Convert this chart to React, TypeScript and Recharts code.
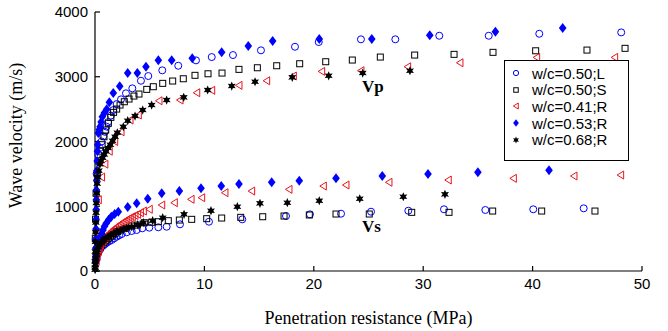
import React from 'react';
import { ScatterChart, Scatter, XAxis, YAxis } from 'recharts';

const xTicks = [0, 10, 20, 30, 40, 50];
const yTicks = [0, 1000, 2000, 3000, 4000];

// w/c=0.50;L
const vpL50 = [[0.15, 1500], [0.3, 1800], [0.45, 1900], [0.6, 2000], [0.75, 2080], [0.9, 2150], [1.05, 2230], [1.2, 2300], [1.45, 2400], [1.67, 2486], [1.98, 2578], [2.38, 2651], [2.83, 2744], [3.41, 2821], [4.2, 2938], [4.87, 3011], [6.15, 3099], [7.61, 3170], [9.23, 3253], [10.67, 3304], [12.61, 3335], [15.17, 3408], [18.28, 3463], [20.45, 3536], [24.31, 3578], [27.45, 3578], [31.47, 3633], [35.99, 3633], [40.61, 3664], [48.1, 3685]];
const vsL50 = [[0.2, 250], [0.35, 300], [0.5, 350], [0.65, 380], [0.8, 400], [0.95, 420], [1.1, 440], [1.3, 460], [1.53, 479], [1.75, 505], [1.98, 530], [2.2, 550], [2.44, 571], [2.9, 598], [3.35, 618], [3.81, 633], [4.32, 659], [4.96, 669], [5.79, 675], [6.55, 684], [7.77, 721], [10.42, 761], [13.46, 798], [17.46, 849], [19.65, 875], [22.49, 885], [25.23, 916], [28.64, 931], [31.9, 953], [35.68, 942], [40.06, 953], [44.67, 968]];

// w/c=0.50;S
const vpS50 = [[0.03, 500], [0.05, 800], [0.1, 1200], [0.2, 1500], [0.35, 1700], [0.5, 1850], [0.65, 1950], [0.82, 2074], [0.98, 2177], [1.22, 2281], [1.45, 2373], [1.7, 2450], [1.98, 2501], [2.29, 2563], [2.68, 2614], [3.11, 2656], [3.56, 2702], [4.02, 2733], [4.73, 2805], [5.33, 2846], [6.19, 2898], [7.1, 2934], [8.07, 2969], [9.14, 3022], [10.33, 3046], [11.61, 3057], [13.16, 3114], [14.84, 3139], [16.61, 3170], [18.71, 3201], [21.09, 3232], [23.52, 3258], [26.08, 3304], [29.22, 3335], [32.82, 3346], [36.38, 3377], [40.28, 3401], [44.97, 3412], [48.45, 3439]];
const vsS50 = [[0.15, 200], [0.3, 300], [0.45, 350], [0.6, 400], [0.8, 440], [1.0, 470], [1.2, 500], [1.4, 530], [1.6, 555], [1.83, 582], [2.05, 610], [2.29, 633], [2.74, 659], [3.35, 695], [3.87, 710], [4.51, 746], [5.18, 752], [5.79, 761], [6.7, 777], [7.71, 787], [8.84, 798], [10.21, 808], [11.58, 818], [13.32, 829], [15.33, 838], [17.28, 849], [19.59, 865], [22.03, 880], [25.07, 880], [28.95, 906], [32.36, 906], [36.35, 926], [40.83, 926], [45.7, 926]];

// w/c=0.41;R
const vpR41 = [[0.1, 600], [0.3, 1100], [0.6, 1450], [0.9, 1650], [1.3, 1850], [1.8, 2000], [2.38, 2151], [3.2, 2331], [3.96, 2409], [5.85, 2629], [7.77, 2640], [9.3, 2753], [10.67, 2790], [13.16, 2867], [15.69, 2938], [18.13, 3011], [20.72, 3083], [24.31, 3093], [28.58, 3154], [33.36, 3216], [40.37, 3299], [47.5, 3299]];
const vsR41 = [[0.1, 150], [0.2, 230], [0.3, 300], [0.4, 350], [0.5, 400], [0.65, 440], [0.8, 480], [0.95, 520], [1.16, 556], [1.35, 590], [1.53, 618], [1.7, 645], [1.89, 669], [2.1, 695], [2.29, 721], [2.47, 740], [2.65, 761], [2.85, 785], [3.04, 803], [3.22, 820], [3.41, 838], [3.65, 858], [3.9, 875], [4.15, 900], [4.42, 926], [4.96, 953], [6.1, 1019], [7.25, 1055], [8.78, 1107], [9.75, 1132], [11.88, 1209], [14.32, 1235], [17.73, 1261], [20.87, 1312], [22.94, 1328], [26.87, 1370], [32.29, 1405], [38.24, 1431], [43.78, 1467], [48.05, 1482]];

// w/c=0.53;R
const vpR53 = [[0.05, 200], [0.06, 350], [0.08, 500], [0.09, 650], [0.1, 800], [0.11, 950], [0.12, 1100], [0.13, 1250], [0.15, 1400], [0.17, 1550], [0.2, 1700], [0.22, 1850], [0.25, 1950], [0.3, 2131], [0.38, 2180], [0.46, 2228], [0.56, 2300], [0.67, 2382], [0.85, 2440], [1.07, 2497], [1.31, 2605], [1.67, 2748], [2.26, 2852], [2.99, 3057], [3.87, 3057], [4.66, 3154], [5.79, 3253], [7.01, 3253], [8.89, 3284], [11.58, 3377], [14.01, 3474], [16.24, 3551], [20.5, 3582], [25.3, 3582], [30.6, 3639], [36.6, 3695], [42.75, 3752]];
const vsR53 = [[0.05, 150], [0.08, 250], [0.12, 324], [0.18, 380], [0.27, 428], [0.4, 480], [0.52, 530], [0.62, 580], [0.73, 633], [0.87, 690], [1.03, 736], [1.25, 790], [1.49, 838], [1.8, 880], [2.13, 916], [2.99, 988], [3.81, 1045], [4.82, 1116], [6.1, 1200], [7.71, 1235], [9.69, 1277], [11.54, 1312], [13.16, 1343], [16.15, 1370], [18.67, 1394], [22.03, 1431], [26.26, 1467], [30.44, 1498], [35.0, 1524], [41.5, 1555]];

// w/c=0.68;R
const vpR68 = [[0.02, 150], [0.03, 300], [0.04, 450], [0.06, 600], [0.08, 750], [0.1, 900], [0.12, 1050], [0.15, 1200], [0.2, 1350], [0.25, 1450], [0.35, 1550], [0.45, 1650], [0.55, 1700], [0.7, 1750], [0.85, 1800], [1.0, 1850], [1.2, 1900], [1.4, 1950], [1.6, 2010], [1.83, 2074], [2.04, 2135], [2.59, 2228], [2.99, 2321], [3.66, 2393], [4.36, 2486], [5.18, 2563], [6.55, 2640], [8.11, 2682], [10.3, 2795], [12.5, 2856], [14.63, 2923], [18.03, 2991], [21.36, 3015], [24.47, 3057], [28.79, 3093]];
const vsR68 = [[0.01, 20], [0.02, 50], [0.03, 100], [0.05, 150], [0.07, 200], [0.1, 250], [0.15, 290], [0.2, 330], [0.3, 370], [0.4, 400], [0.55, 430], [0.7, 460], [0.85, 485], [1.0, 510], [1.2, 530], [1.46, 556], [1.7, 580], [1.98, 607], [2.3, 625], [2.59, 648], [2.9, 665], [3.35, 684], [3.9, 715], [4.42, 746], [5.27, 777], [6.19, 823], [8.14, 875], [10.6, 931], [13.01, 993], [15.08, 1045], [17.58, 1055], [20.5, 1085], [24.2, 1116], [28.18, 1147], [31.99, 1184]];

const BLUE = '#0000ff';
const RED = '#e8141e';
const BLACK = '#000';

const toPts = (a: number[][], b: number[][]) => [...a, ...b].map(([x, y]) => ({ x, y }));

const OpenCircle = ({ cx, cy, s = 1 }: any) => (
  <circle cx={cx} cy={cy} r={3.5 * s} fill="none" stroke={BLUE} strokeWidth={1} />
);
const OpenSquare = ({ cx, cy, s = 1 }: any) => (
  <rect x={cx - 3 * s} y={cy - 3 * s} width={6 * s} height={6 * s} fill="none" stroke={BLACK} strokeWidth={1} />
);
const LeftTri = ({ cx, cy, s = 1 }: any) => (
  <polygon
    points={`${cx - 3.5 * s},${cy} ${cx + 3 * s},${cy - 4 * s} ${cx + 3 * s},${cy + 4 * s}`}
    fill="none"
    stroke={RED}
    strokeWidth={1}
  />
);
const Diamond = ({ cx, cy, s = 1 }: any) => (
  <polygon
    points={`${cx},${cy - 5 * s} ${cx + 3.8 * s},${cy} ${cx},${cy + 5 * s} ${cx - 3.8 * s},${cy}`}
    fill={BLUE}
  />
);
const Star = ({ cx, cy, s = 1 }: any) => {
  const pts: string[] = [];
  for (let i = 0; i < 12; i++) {
    const r = (i % 2 === 0 ? 4.6 : 2.3) * s;
    const a = (Math.PI / 6) * i - Math.PI / 2;
    pts.push(`${cx + r * Math.cos(a)},${cy + r * Math.sin(a)}`);
  }
  return <polygon points={pts.join(' ')} fill={BLACK} />;
};

const series = [
  { name: 'w/c=0.50;L', data: toPts(vpL50, vsL50), Shape: OpenCircle },
  { name: 'w/c=0.50;S', data: toPts(vpS50, vsS50), Shape: OpenSquare },
  { name: 'w/c=0.41;R', data: toPts(vpR41, vsR41), Shape: LeftTri },
  { name: 'w/c=0.53;R', data: toPts(vpR53, vsR53), Shape: Diamond },
  { name: 'w/c=0.68;R', data: toPts(vpR68, vsR68), Shape: Star },
];

const tickStyle = { fontSize: 15, fill: '#000', fontFamily: 'Liberation Sans, Arial, sans-serif' };
const titleFont = 'Liberation Serif, Times New Roman, serif';

export default function App() {
  return (
    <div style={{ position: 'absolute', left: 0, top: 0, width: 668, height: 331, background: '#fff' }}>
      <ScatterChart width={668} height={331} margin={{ top: 12, right: 26, bottom: 0, left: 0 }}>
        <XAxis
          xAxisId="b"
          type="number"
          dataKey="x"
          domain={[0, 50]}
          ticks={xTicks}
          height={60}
          tickSize={-5}
          tickMargin={12}
          tick={tickStyle}
          stroke="#000"
          strokeWidth={1.2}
          label={{ value: 'Penetration resistance (MPa)', position: 'insideBottom', offset: 7, style: { fontFamily: titleFont, fontSize: 18, fill: '#000' } }}
        />
        <XAxis
          xAxisId="t"
          orientation="top"
          type="number"
          dataKey="x"
          domain={[0, 50]}
          ticks={xTicks}
          height={0}
          tickSize={-5}
          tickFormatter={() => ''}
          stroke="#000"
          strokeWidth={1.2}
        />
        <YAxis
          yAxisId="l"
          type="number"
          dataKey="y"
          domain={[0, 4000]}
          ticks={yTicks}
          width={95}
          tickSize={-5}
          tickMargin={12}
          tick={tickStyle}
          stroke="#000"
          strokeWidth={1.2}
          label={{ value: 'Wave velocity (m/s)', angle: -90, position: 'insideLeft', offset: 16, dy: -6, style: { fontFamily: titleFont, fontSize: 18, fill: '#000', textAnchor: 'middle' } }}
        />
        <YAxis
          yAxisId="r"
          orientation="right"
          type="number"
          dataKey="y"
          domain={[0, 4000]}
          ticks={yTicks}
          width={0}
          tickSize={-5}
          tickFormatter={() => ''}
          stroke="#000"
          strokeWidth={1.2}
        />
        {series.map(({ name, data, Shape }) => (
          <Scatter
            key={name}
            name={name}
            data={data}
            xAxisId="b"
            yAxisId="l"
            isAnimationActive={false}
            shape={(p: any) => <Shape cx={p.cx} cy={p.cy} />}
          />
        ))}
      </ScatterChart>

      <div style={{ position: 'absolute', left: 362, top: 78, fontFamily: titleFont, fontWeight: 'bold', fontSize: 17, lineHeight: '18px' }}>Vp</div>
      <div style={{ position: 'absolute', left: 362, top: 218, fontFamily: titleFont, fontWeight: 'bold', fontSize: 17, lineHeight: '18px' }}>Vs</div>

      <div
        style={{
          position: 'absolute',
          left: 504,
          top: 60,
          width: 125,
          height: 101,
          border: '1px solid #000',
          background: '#fff',
          paddingTop: 4,
          boxSizing: 'border-box',
        }}
      >
        {series.map(({ name, Shape }) => (
          <div key={name} style={{ display: 'flex', alignItems: 'center', height: 16.6 }}>
            <svg width={24} height={16} style={{ flex: 'none' }}>
              <Shape cx={11} cy={8} s={0.75} />
            </svg>
            <span style={{ fontFamily: 'Liberation Sans, Arial, sans-serif', fontSize: 15, marginLeft: 3 }}>{name}</span>
          </div>
        ))}
      </div>
    </div>
  );
}
